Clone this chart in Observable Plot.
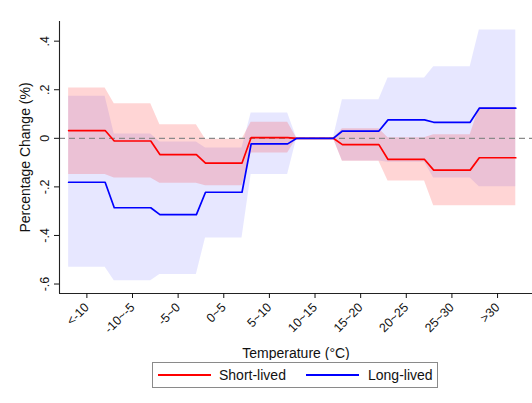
<!DOCTYPE html>
<html>
<head>
<meta charset="utf-8">
<script src="https://cdn.jsdelivr.net/npm/d3@7"></script>
<script src="https://cdn.jsdelivr.net/npm/@observablehq/plot@0.6"></script>
<style>
  body { margin: 0; background: #fff; font-family: "Liberation Sans", Arial, sans-serif; }
  #wrap { position: relative; width: 532px; height: 403px; overflow: hidden; }
  #legend { position: absolute; left: 152px; top: 362px; width: 284px; height: 24px;
            border: 1.5px solid #8a8a8a; background: #fff; font-size: 14px; color: #111; }
  #legend .sw { position: absolute; top: 11px; width: 53px; height: 2px; }
  #legend .lb { position: absolute; top: 3px; line-height: 18px; white-space: nowrap; }
</style>
</head>
<body>
<div id="wrap">
  <div id="chart"></div>
  <div id="legend">
    <div class="sw" style="left:5px;background:#ff0000"></div>
    <div class="lb" style="left:66px">Short-lived</div>
    <div class="sw" style="left:153px;background:#0000ff"></div>
    <div class="lb" style="left:215px">Long-lived</div>
  </div>
</div>
<script>
// Categories (x axis tick labels)
const categories = ["<-10", "-10~-5", "-5~0", "0~5", "5~10", "10~15", "15~20", "20~25", "25~30", ">30"];

// Short-lived: point estimate and 95% CI
const shortEst = [0.032, -0.011, -0.067, -0.102, 0.003, 0, -0.026, -0.087, -0.131, -0.080];
const shortHi  = [0.207,  0.142,  0.056, -0.004, 0.066, 0,  0.039,  0.002,  0.015,  0.127];
const shortLo  = [-0.149, -0.163, -0.185, -0.195, -0.060, 0, -0.094, -0.176, -0.278, -0.278];

// Long-lived: point estimate and 95% CI
const longEst = [-0.181, -0.286, -0.314, -0.222, -0.023, 0, 0.030, 0.076, 0.066, 0.124];
const longHi  = [0.173,  0.018, -0.015, -0.040, 0.104, 0, 0.159, 0.248, 0.295, 0.446];
const longLo  = [-0.531, -0.586, -0.561, -0.410, -0.149, 0, -0.093, -0.099, -0.163, -0.199];

// Y tick values
const yTicks = [-0.6, -0.4, -0.2, 0, 0.2, 0.4];
const yTickLabels = ["-.6", "-.4", "-.2", "0", ".2", ".4"];

const half = 0.4; // half-width of each category's flat step
function steps(est, lo, hi) {
  return categories.flatMap((c, i) => [
    {x: i - half, est: est[i], lo: lo[i], hi: hi[i]},
    {x: i + half, est: est[i], lo: lo[i], hi: hi[i]}
  ]);
}
const shortData = steps(shortEst, shortLo, shortHi);
const longData = steps(longEst, longLo, longHi);

const xDomain = [-0.6, 9.766];
const yDomain = [-0.639, 0.481];

const plot = Plot.plot({
  width: 532,
  height: 360,
  marginTop: 21,
  marginBottom: 67,
  marginLeft: 59,
  marginRight: 0,
  style: { fontFamily: "Liberation Sans, Arial, sans-serif", background: "#fff", color: "#111" },
  x: { type: "linear", domain: xDomain },
  y: { type: "linear", domain: yDomain },
  marks: [
    Plot.areaY(longData, { x: "x", y1: "lo", y2: "hi", fill: "#0000ff", fillOpacity: 0.095 }),
    Plot.areaY(shortData, { x: "x", y1: "lo", y2: "hi", fill: "#ff0000", fillOpacity: 0.165 }),
    Plot.ruleY([0], { stroke: "#8a8a8a", strokeWidth: 1.2, strokeDasharray: "6,4" }),
    Plot.line(shortData, { x: "x", y: "est", stroke: "#ff0000", strokeWidth: 1.7 }),
    Plot.line(longData, { x: "x", y: "est", stroke: "#0000ff", strokeWidth: 1.7 }),
    Plot.ruleX([xDomain[0]], { stroke: "#222", strokeWidth: 1.1 }),
    Plot.ruleY([yDomain[0]], { stroke: "#222", strokeWidth: 1.1 }),
    Plot.axisY({
      ticks: yTicks,
      tickFormat: (d) => yTickLabels[yTicks.indexOf(d)],
      tickRotate: -90,
      tickSize: 5,
      tickPadding: 6,
      fontSize: 12.5,
      label: null
    }),
    Plot.axisY({
      ticks: [],
      label: "Percentage Change (%)",
      labelAnchor: "center",
      labelArrow: "none",
      labelOffset: 39,
      fontSize: 14
    }),
    Plot.axisX({
      ticks: d3.range(categories.length),
      tickFormat: (i) => categories[i],
      tickRotate: -45,
      tickSize: 5,
      fontSize: 12.5,
      label: null
    }),
    Plot.axisX({
      ticks: [],
      label: "Temperature (°C)",
      labelAnchor: "center",
      labelArrow: "none",
      labelOffset: 64,
      fontSize: 14
    })
  ]
});
document.getElementById("chart").appendChild(plot);
</script>
</body>
</html>
